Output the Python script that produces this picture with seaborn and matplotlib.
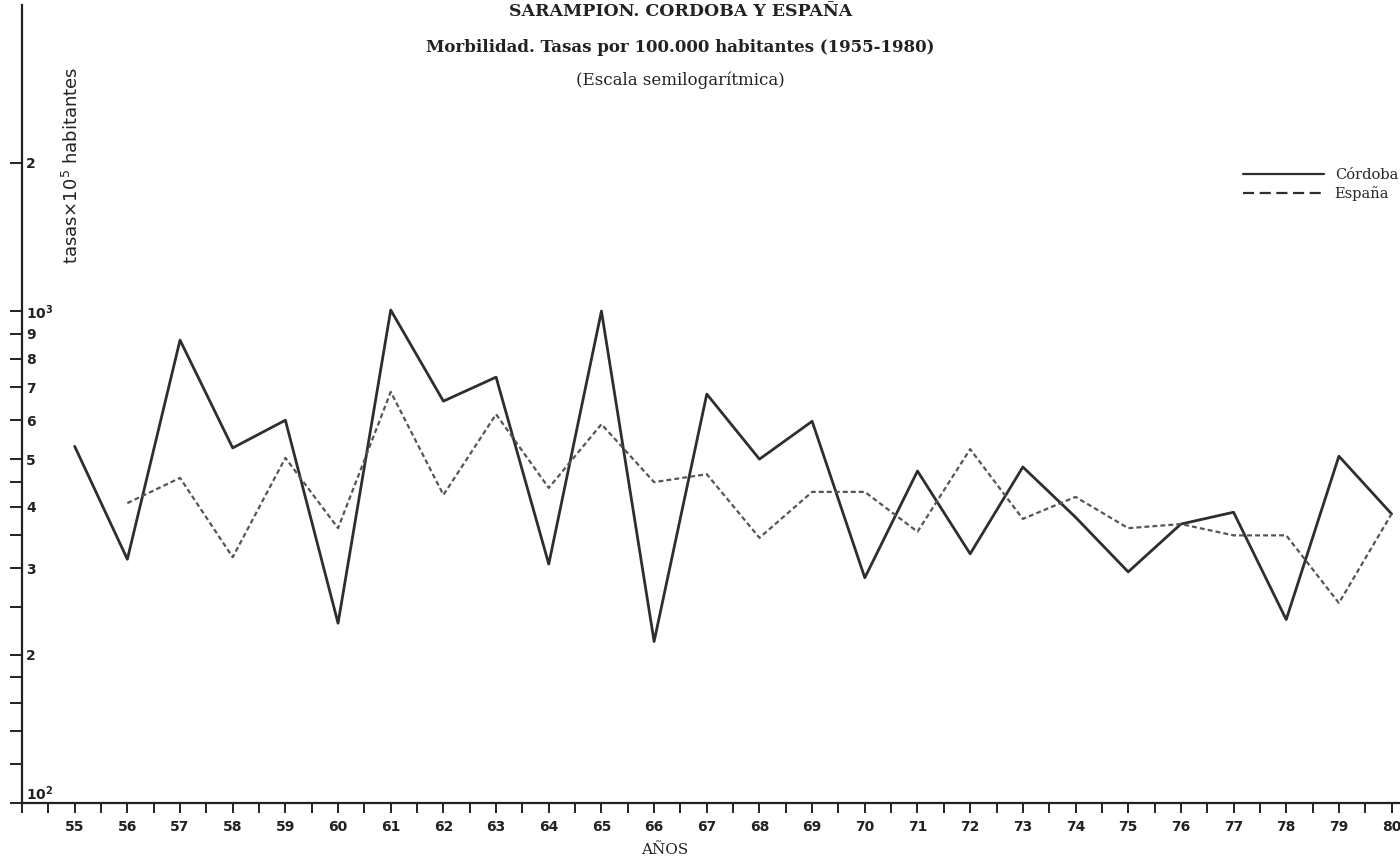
# Sarampion - Cordoba y Espana, tasas por 100.000 hab (escala semilog)

import pandas as pd
import seaborn as sns
import matplotlib.pyplot as plt
from matplotlib.lines import Line2D
from matplotlib.ticker import NullLocator, MultipleLocator

# datos
anios = list(range(55, 81))
cordoba = [531, 313, 873, 527, 600, 232, 1005, 656, 734, 306, 1000, 213, 678,
           500, 597, 287, 473, 321, 482, 381, 295, 369, 390, 236, 507, 387]
anios_esp = list(range(56, 81))
espana = [407, 458, 316, 503, 362, 685, 423, 617, 437, 589, 449, 466, 346,
          429, 429, 356, 524, 378, 419, 362, 369, 350, 350, 255, 387]

yticks = [100, 120, 140, 160, 180, 200, 250, 300, 350, 400, 450, 500,
          600, 700, 800, 900, 1000, 2000]
ylabels = ['$\\mathbf{10^2}$', '', '', '', '', '2', '', '3', '', '4', '', '5',
           '6', '7', '8', '9', '$\\mathbf{10^3}$', '2']

df_cor = pd.DataFrame({'anio': anios, 'tasa': cordoba})
df_esp = pd.DataFrame({'anio': anios_esp, 'tasa': espana})

sns.set_style('white')
plt.rcParams['font.family'] = ['DejaVu Sans']

fig = plt.figure(figsize=(14, 8.65), dpi=100)
ax = fig.add_axes([22/1400, 62/865, 1378/1400, 798/865])

sns.lineplot(data=df_cor, x='anio', y='tasa', ax=ax, color='#2e2e2e', lw=2.0)
sns.lineplot(data=df_esp, x='anio', y='tasa', ax=ax, color='#555555', lw=1.6,
             linestyle=(0, (2.2, 1.4)))

ax.set_yscale('log')
ax.set_xlim(54, 80.16)
ax.set_ylim(100, 4190)

ax.set_yticks(yticks)
ax.yaxis.set_minor_locator(NullLocator())
ax.set_yticklabels(ylabels, ha='left', fontsize=10, fontweight='bold', color='#222222')
ax.get_yticklabels()[0].set_verticalalignment('bottom')  # 10^2 sits just above the axis
ax.tick_params(axis='y', left=True, direction='out', length=9, width=1.4, pad=-12,
               colors='#222222')

ax.set_xticks(anios)
ax.set_xticklabels([str(a) for a in anios], fontsize=10, fontweight='bold', color='#222222')
ax.xaxis.set_minor_locator(MultipleLocator(0.5))
ax.tick_params(axis='x', which='both', bottom=True, direction='out', length=7, width=1.4,
               pad=5, colors='#222222')

for s in ['top', 'right']:
    ax.spines[s].set_visible(False)
for s in ['left', 'bottom']:
    ax.spines[s].set_color('#222222')
    ax.spines[s].set_linewidth(1.6)

ax.set_xlabel('')
ax.set_ylabel('')

# titulos
fig.text(0.486, 1 - 12/865, 'SARAMPION. CORDOBA Y ESPAÑA', ha='center', va='center',
         family='DejaVu Serif', fontsize=12.5, fontweight='bold', color='#222222')
fig.text(0.486, 1 - 48/865, 'Morbilidad. Tasas por 100.000 habitantes (1955-1980)',
         ha='center', va='center', family='DejaVu Serif', fontsize=12, fontweight='bold',
         color='#222222')
fig.text(0.486, 1 - 80/865, '(Escala semilogarítmica)', ha='center', va='center',
         family='DejaVu Serif', fontsize=12, color='#222222')

fig.text(72/1400, 1 - 165/865, 'tasas$\\times$10$^5$ habitantes', rotation=90,
         ha='center', va='center', fontsize=13, color='#222222')
fig.text(665/1400, 1 - 850/865, 'AÑOS', ha='center', va='center',
         family='DejaVu Serif', fontsize=11, color='#222222')

# leyenda
handles = [Line2D([], [], color='#2e2e2e', lw=1.6),
           Line2D([], [], color='#2e2e2e', lw=1.6, linestyle=(0, (5, 2.5)))]
ax.legend(handles, ['Córdoba', 'España'], loc='upper right',
          bbox_to_anchor=(1398/1400, 1 - 168/865), bbox_transform=fig.transFigure,
          frameon=False, handlelength=5.6, handletextpad=0.7, labelspacing=0.3,
          borderaxespad=0, borderpad=0,
          prop={'family': 'DejaVu Serif', 'size': 10.5})

fig.savefig('out.png', dpi=100)
